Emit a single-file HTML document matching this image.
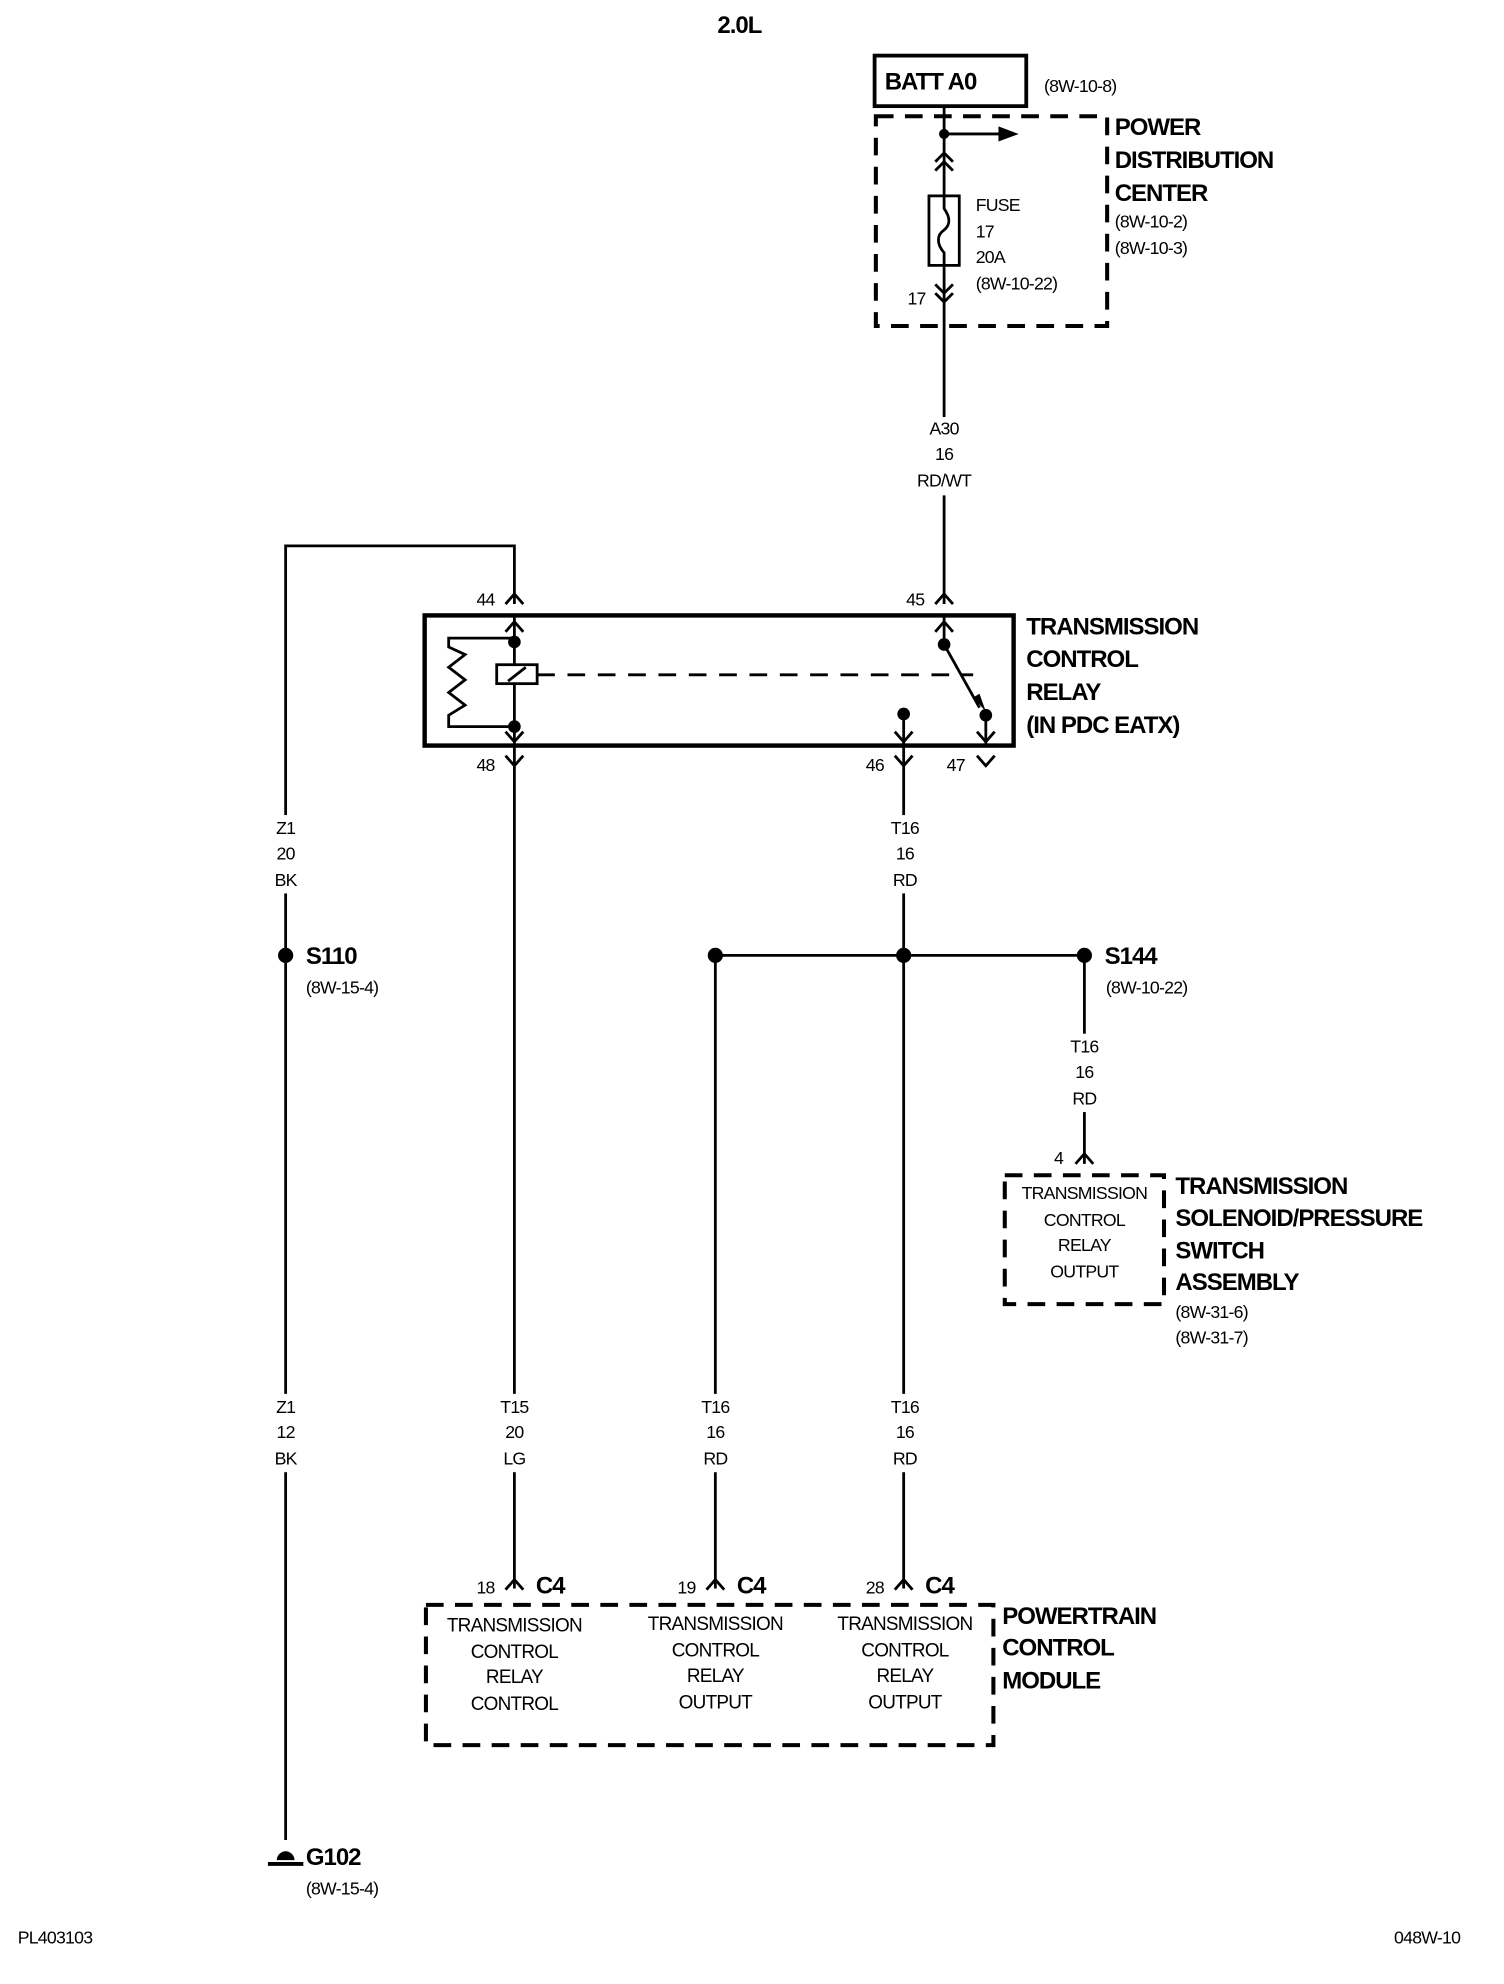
<!DOCTYPE html>
<html><head><meta charset="utf-8"><style>
html,body{margin:0;padding:0;background:#fff}
svg{display:block}
text{font-family:"Liberation Sans",Arial,sans-serif;fill:#000}
.s{font-size:14px;letter-spacing:-0.6px}
.b{font-size:19px;font-weight:bold;letter-spacing:-0.8px}
.m{font-size:15px;letter-spacing:-0.6px}
.c{text-anchor:middle}
</style></head><body>
<svg width="1504" height="1984" viewBox="0 0 1190 1570" preserveAspectRatio="none" xmlns="http://www.w3.org/2000/svg">
<g fill="none" stroke="#000" stroke-width="2.2">
<rect x="692" y="44" width="120" height="40" stroke-width="3"/>
<rect x="693" y="92" width="183" height="166" stroke-width="3.2" stroke-dasharray="14,9"/>
<line x1="747" y1="84" x2="747" y2="155"/>
<line x1="747" y1="106" x2="790" y2="106"/>
<path d="M740 128 L747 121 L754 128 M740 135 L747 128 L754 135"/>
<rect x="735" y="155" width="24" height="55"/>
<path d="M747 155 L747 165 C752 172 752 178 747 182 C741 186 741 193 747 200 L747 210"/>
<line x1="747" y1="210" x2="747" y2="478"/>
<path d="M740 225 L747 232 L754 225 M740 232 L747 239 L754 232"/>
<rect x="336" y="487" width="466" height="103" stroke-width="3.5"/>
<path d="M407 478 L407 432 L226 432 L226 1456"/>
<path d="M400 478 L407 470 L414 478"/>
<path d="M740 478 L747 470 L754 478"/>
<line x1="407" y1="487" x2="407" y2="1257"/>
<path d="M400 500 L407 492 L414 500 M400 579 L407 587 L414 579"/>
<path d="M407 505 L355 505 L355 512 L368 518 L355 528 L368 538 L355 548 L368 558 L355 566 L355 575 L407 575"/>
<rect x="393" y="526" width="32" height="15" fill="#fff"/>
<line x1="402" y1="539" x2="416" y2="528"/>
<line x1="425" y1="534" x2="770" y2="534" stroke-dasharray="14,10"/>
<line x1="747" y1="487" x2="747" y2="510"/>
<path d="M740 500 L747 492 L754 500"/>
<line x1="747" y1="510" x2="775" y2="560"/>
<line x1="780" y1="566" x2="780" y2="590"/>
<path d="M773 579 L780 587 L787 579"/>
<line x1="715" y1="565" x2="715" y2="1257"/>
<path d="M708 579 L715 587 L722 579"/>
<path d="M400 598 L407 606 L414 598 M708 598 L715 606 L722 598 M773 598 L780 606 L787 598"/>
<line x1="566" y1="756" x2="858" y2="756"/>
<line x1="566" y1="756" x2="566" y2="1257"/>
<line x1="858" y1="756" x2="858" y2="921"/>
<path d="M851 921 L858 913 L865 921"/>
<rect x="795" y="930" width="126" height="102" stroke-width="3.2" stroke-dasharray="14,9"/>
<path d="M400 1258 L407 1250 L414 1258 M559 1258 L566 1250 L573 1258 M708 1258 L715 1250 L722 1258"/>
<rect x="337" y="1270" width="449" height="111" stroke-width="3.2" stroke-dasharray="14,9"/>
<line x1="212" y1="1475" x2="240" y2="1475" stroke-width="3"/>
</g>
<g fill="#000">
<circle cx="747" cy="106" r="4"/>
<path d="M790 100 L806 106 L790 112 Z"/>
<circle cx="407" cy="508" r="5"/><circle cx="407" cy="575" r="5"/>
<circle cx="747" cy="510" r="5"/><circle cx="780" cy="566" r="5"/><circle cx="715" cy="565" r="5"/>
<path d="M770 552 L780 563 L775 549 Z"/>
<circle cx="226" cy="756" r="6"/><circle cx="566" cy="756" r="6"/><circle cx="715" cy="756" r="6"/><circle cx="858" cy="756" r="6"/>
<path d="M219 1472 A7 7 0 0 1 233 1472 Z"/>
</g>
<g fill="#fff">
<rect x="725" y="330" width="45" height="62"/>
<rect x="700" y="645" width="32" height="62"/>
<rect x="210" y="645" width="32" height="62"/>
<rect x="840" y="818" width="36" height="62"/>
<rect x="210" y="1103" width="32" height="62"/>
<rect x="390" y="1103" width="34" height="62"/>
<rect x="549" y="1103" width="34" height="62"/>
<rect x="698" y="1103" width="34" height="62"/>
</g>
<text class="b c" x="585" y="26">2.0L</text>
<text class="b" x="700" y="71">BATT A0</text>
<text class="s" x="826" y="73">(8W-10-8)</text>
<text class="b" x="882" y="107">POWER</text>
<text class="b" x="882" y="133">DISTRIBUTION</text>
<text class="b" x="882" y="159">CENTER</text>
<text class="s" x="882" y="180">(8W-10-2)</text>
<text class="s" x="882" y="201">(8W-10-3)</text>
<text class="s" x="772" y="167">FUSE</text>
<text class="s" x="772" y="188">17</text>
<text class="s" x="772" y="208">20A</text>
<text class="s" x="772" y="229">(8W-10-22)</text>
<text class="s" x="718" y="241">17</text>
<text class="s c" x="747" y="344">A30</text><text class="s c" x="747" y="364">16</text><text class="s c" x="747" y="385">RD/WT</text>
<text class="s c" x="716" y="660">T16</text><text class="s c" x="716" y="680">16</text><text class="s c" x="716" y="701">RD</text>
<text class="s c" x="226" y="660">Z1</text><text class="s c" x="226" y="680">20</text><text class="s c" x="226" y="701">BK</text>
<text class="s c" x="858" y="833">T16</text><text class="s c" x="858" y="853">16</text><text class="s c" x="858" y="874">RD</text>
<text class="s c" x="226" y="1118">Z1</text><text class="s c" x="226" y="1138">12</text><text class="s c" x="226" y="1159">BK</text>
<text class="s c" x="407" y="1118">T15</text><text class="s c" x="407" y="1138">20</text><text class="s c" x="407" y="1159">LG</text>
<text class="s c" x="566" y="1118">T16</text><text class="s c" x="566" y="1138">16</text><text class="s c" x="566" y="1159">RD</text>
<text class="s c" x="716" y="1118">T16</text><text class="s c" x="716" y="1138">16</text><text class="s c" x="716" y="1159">RD</text>
<text class="s" x="377" y="479">44</text>
<text class="s" x="717" y="479">45</text>
<text class="s" x="377" y="610">48</text>
<text class="s" x="685" y="610">46</text>
<text class="s" x="749" y="610">47</text>
<text class="b" x="812" y="502">TRANSMISSION</text>
<text class="b" x="812" y="528">CONTROL</text>
<text class="b" x="812" y="554">RELAY</text>
<text class="b" x="812" y="580">(IN PDC EATX)</text>
<text class="b" x="242" y="763">S110</text>
<text class="s" x="242" y="786">(8W-15-4)</text>
<text class="b" x="874" y="763">S144</text>
<text class="s" x="875" y="786">(8W-10-22)</text>
<text class="s" x="834" y="921">4</text>
<text class="s c" x="858" y="949">TRANSMISSION</text><text class="s c" x="858" y="970">CONTROL</text><text class="s c" x="858" y="990">RELAY</text><text class="s c" x="858" y="1011">OUTPUT</text>
<text class="b" x="930" y="945">TRANSMISSION</text>
<text class="b" x="930" y="970">SOLENOID/PRESSURE</text>
<text class="b" x="930" y="996">SWITCH</text>
<text class="b" x="930" y="1021">ASSEMBLY</text>
<text class="s" x="930" y="1043">(8W-31-6)</text>
<text class="s" x="930" y="1063">(8W-31-7)</text>
<text class="s" x="377" y="1261">18</text><text class="b" x="424" y="1261">C4</text>
<text class="s" x="536" y="1261">19</text><text class="b" x="583" y="1261">C4</text>
<text class="s" x="685" y="1261">28</text><text class="b" x="732" y="1261">C4</text>
<text class="m c" x="407" y="1291">TRANSMISSION</text><text class="m c" x="407" y="1312">CONTROL</text><text class="m c" x="407" y="1332">RELAY</text><text class="m c" x="407" y="1353">CONTROL</text>
<text class="m c" x="566" y="1290">TRANSMISSION</text><text class="m c" x="566" y="1311">CONTROL</text><text class="m c" x="566" y="1331">RELAY</text><text class="m c" x="566" y="1352">OUTPUT</text>
<text class="m c" x="716" y="1290">TRANSMISSION</text><text class="m c" x="716" y="1311">CONTROL</text><text class="m c" x="716" y="1331">RELAY</text><text class="m c" x="716" y="1352">OUTPUT</text>
<text class="b" x="793" y="1285">POWERTRAIN</text>
<text class="b" x="793" y="1310">CONTROL</text>
<text class="b" x="793" y="1336">MODULE</text>
<text class="b" x="242" y="1476">G102</text>
<text class="s" x="242" y="1499">(8W-15-4)</text>
<text class="s" x="14" y="1538">PL403103</text>
<text class="s" x="1103" y="1538">048W-10</text>
</svg>
</body></html>
